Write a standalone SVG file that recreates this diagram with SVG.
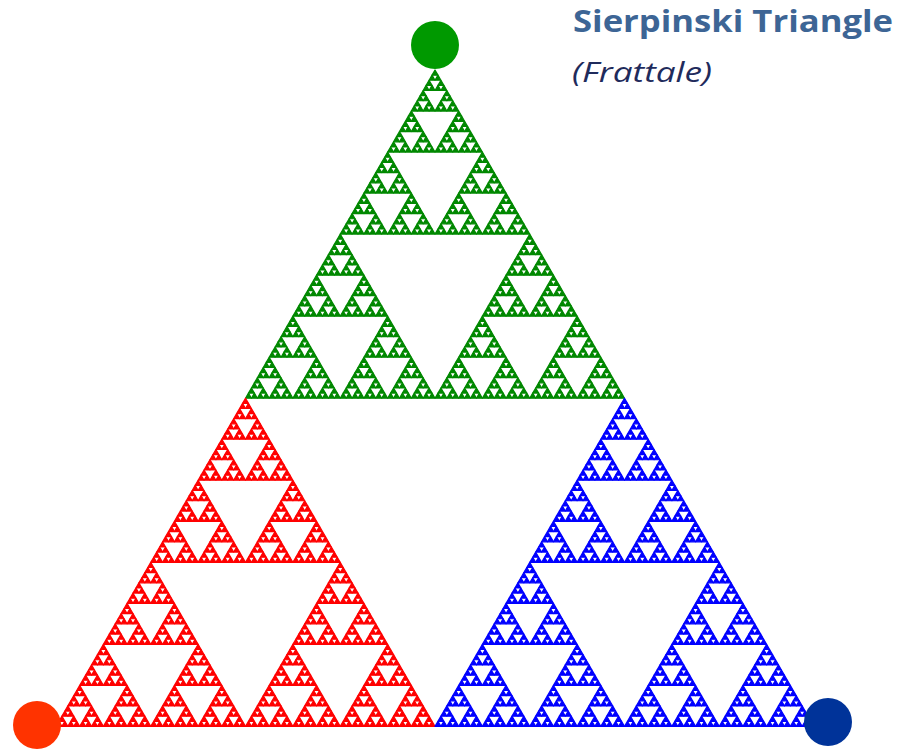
<svg xmlns="http://www.w3.org/2000/svg" xmlns:xlink="http://www.w3.org/1999/xlink" width="899" height="755" viewBox="0 0 899 755">
<style>
.title{font-family:"Open Sans","Liberation Sans",sans-serif;font-weight:bold;font-size:31px;fill:#3d6595}
.sub{font-family:"Open Sans","Liberation Sans",sans-serif;font-style:italic;font-size:27px;fill:#1f2b5c}
#s0{stroke-width:1.2;vector-effect:non-scaling-stroke;stroke-linejoin:round}
</style>
<defs>
<polygon id="s0" points="0.5,0 0,0.8660254 1,0.8660254"/>
<g id="s1"><use href="#s0" transform="translate(0.25,0) scale(0.5)"/><use href="#s0" transform="translate(0,0.4330127) scale(0.5)"/><use href="#s0" transform="translate(0.5,0.4330127) scale(0.5)"/></g>
<g id="s2"><use href="#s1" transform="translate(0.25,0) scale(0.5)"/><use href="#s1" transform="translate(0,0.4330127) scale(0.5)"/><use href="#s1" transform="translate(0.5,0.4330127) scale(0.5)"/></g>
<g id="s3"><use href="#s2" transform="translate(0.25,0) scale(0.5)"/><use href="#s2" transform="translate(0,0.4330127) scale(0.5)"/><use href="#s2" transform="translate(0.5,0.4330127) scale(0.5)"/></g>
<g id="s4"><use href="#s3" transform="translate(0.25,0) scale(0.5)"/><use href="#s3" transform="translate(0,0.4330127) scale(0.5)"/><use href="#s3" transform="translate(0.5,0.4330127) scale(0.5)"/></g>
<g id="s5"><use href="#s4" transform="translate(0.25,0) scale(0.5)"/><use href="#s4" transform="translate(0,0.4330127) scale(0.5)"/><use href="#s4" transform="translate(0.5,0.4330127) scale(0.5)"/></g>
<g id="s6"><use href="#s5" transform="translate(0.25,0) scale(0.5)"/><use href="#s5" transform="translate(0,0.4330127) scale(0.5)"/><use href="#s5" transform="translate(0.5,0.4330127) scale(0.5)"/></g>
</defs>
<rect width="899" height="755" fill="#ffffff"/>
<g id="green-part" fill="#008800" stroke="#008800"><use href="#s6" transform="translate(245.5,70) scale(379)"/></g>
<g id="red-part" fill="#ff0000" stroke="#ff0000"><use href="#s6" transform="translate(56,398.2) scale(379)"/></g>
<g id="blue-part" fill="#0000ff" stroke="#0000ff"><use href="#s6" transform="translate(435,398.2) scale(379)"/></g>
<g id="top-vertex"><circle cx="435" cy="45" r="24" fill="#009900"/></g>
<g id="left-vertex"><circle cx="37" cy="725" r="24" fill="#ff3300"/></g>
<g id="right-vertex"><circle cx="828" cy="722" r="24" fill="#003399"/></g>
<g id="title"><text class="title" x="573" y="32" textLength="320" lengthAdjust="spacingAndGlyphs">Sierpinski Triangle</text><text class="sub" x="572" y="82" textLength="140" lengthAdjust="spacingAndGlyphs">(Frattale)</text></g>
</svg>
